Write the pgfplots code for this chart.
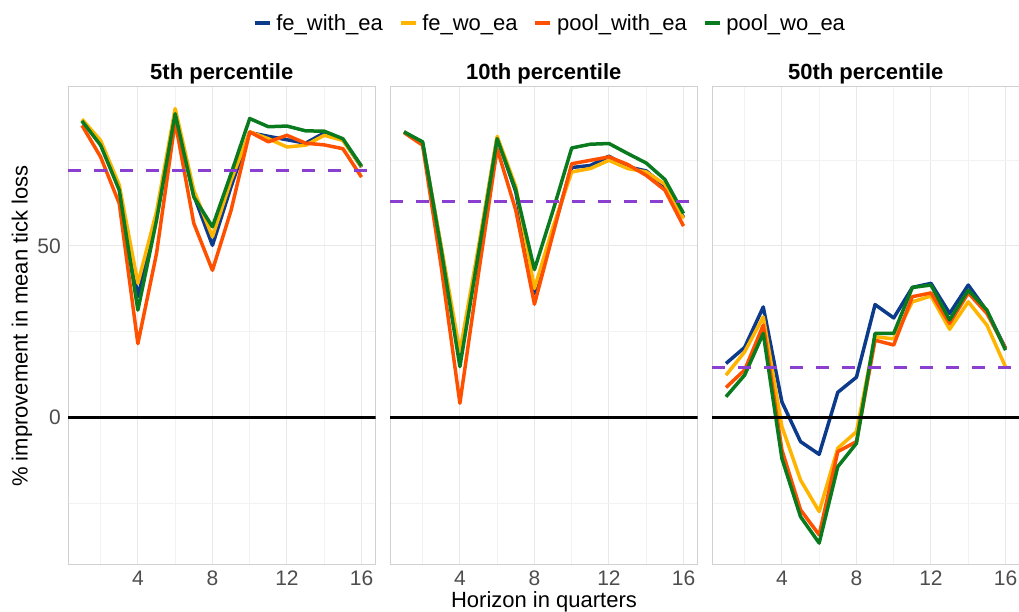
\documentclass[border=0pt]{standalone}
\usepackage{fontspec}
\setmainfont{Liberation Sans}
\usepackage{pgfplots}
\usepackage{pgfplotstable}
\pgfplotsset{compat=1.18}
\definecolor{cblue}{RGB}{13,59,140}
\definecolor{cyellow}{RGB}{255,180,0}
\definecolor{corange}{RGB}{255,80,0}
\definecolor{cgreen}{RGB}{10,122,30}
\definecolor{cpurple}{RGB}{138,63,208}
\definecolor{tickgray}{RGB}{77,77,77}

% 5th percentile
\pgfplotstableread{
x  blue  yellow orange green
1  86.5  87.0   85.2   86.5
2  79.9  80.8   76.0   79.4
3  66.8  67.8   62.4   66.3
4  35.2  39.1   21.5   31.3
5  58.5  60.0   47.8   57.5
6  88.6  90.1   86.3   88.6
7  64.8  66.3   56.6   64.3
8  50.2  52.7   42.9   55.6
9  67.3  69.2   60.4   71.1
10 83.1  83.3   83.3   87.2
11 82.0  81.3   80.4   84.8
12 81.0  78.9   82.3   85.0
13 80.0  79.4   80.0   83.6
14 83.0  82.3   79.5   83.5
15 81.0  80.8   78.4   81.3
16 73.0  73.1   70.1   73.3
}\tabA

% 10th percentile
\pgfplotstableread{
x  blue  yellow orange green
1  83.3  83.3   83.1   83.3
2  80.0  80.0   79.4   80.4
3  49.3  49.8   43.9   48.8
4  16.8  19.1   4.1    14.8
5  48.8  49.8   42.0   48.0
6  81.6  82.0   78.4   81.3
7  65.8  67.3   60.4   66.3
8  36.2  37.6   33.0   43.1
9  54.6  55.6   53.6   60.4
10 72.9  71.6   74.0   78.6
11 73.5  72.6   75.0   79.7
12 76.2  75.0   76.0   79.9
13 73.1  72.6   73.8   77.0
14 71.9  71.6   70.6   74.2
15 67.4  68.0   66.3   69.4
16 58.4  58.0   55.8   59.5
}\tabB

% 50th percentile
\pgfplotstableread{
x  blue  yellow orange green
1  15.7  12.3   8.7    6.0
2  20.4  19.1   13.8   12.3
3  32.2  29.3   26.9   24.5
4  4.5   -2.7   -9.5   -12.0
5  -7.1  -18.3  -27.0  -29.0
6  -10.8 -27.5  -34.3  -36.7
7  7.3   -9.0   -10.0  -14.4
8  11.7  -4.2   -7.1   -7.6
9  32.9  23.5   22.5   24.5
10 29.0  22.9   21.1   24.5
11 37.9  33.7   35.2   37.9
12 39.1  35.4   36.3   38.6
13 30.3  25.7   27.4   28.4
14 38.6  33.7   36.3   37.1
15 31.0  26.9   30.3   31.3
16 20.1  14.7   20.1   19.6
}\tabC

\pgfplotsset{
  panel/.style={
    scale only axis, width=307.5pt, height=478pt,
    anchor=south west,
    xmin=0.25, xmax=16.75, ymin=-43.1, ymax=96.4,
    xtick={4,8,12,16}, minor xtick={2,6,10,14},
    ytick={0,50}, minor ytick={-25,25,75},
    grid=both,
    major grid style={draw=black!9, line width=1pt},
    minor grid style={draw=black!5, line width=0.6pt},
    major tick length=0pt, minor tick length=0pt,
    axis line style={draw=black!18, line width=1pt},
    tick label style={font=\fontsize{21}{24}\selectfont, text=tickgray},
    /pgf/number format/assume math mode=true,
    xticklabel style={anchor=north, inner sep=0pt, yshift=-5.5pt},
    yticklabel style={anchor=east, inner sep=0pt, xshift=-7pt},
    title style={font=\fontsize{22}{26}\selectfont\bfseries, at={(0.5,1)}, anchor=base, yshift=1.5pt},
    every axis plot/.append style={line width=3.5pt, line join=round},
  },
  zeroline/.style={black, line width=3.5pt, forget plot},
  refline/.style={cpurple, line width=3.5pt, dash pattern=on 13pt off 13pt, forget plot},
}

\begin{document}
\begin{tikzpicture}
\useasboundingbox (0pt,0pt) rectangle (1019pt,612pt);

\begin{axis}[panel, at={(68pt,47pt)}, title={5th percentile},
  legend columns=4,
  legend style={at={(1.564,1.134)}, anchor=center, draw=none, fill=none,
    font=\fontsize{22}{26}\selectfont,
    nodes={inner sep=0pt},
    /tikz/every even column/.append style={column sep=16pt},
    /tikz/every odd column/.append style={column sep=5pt}},
  legend image code/.code={\draw[#1, line width=3.5pt] (0pt,0pt) -- (15pt,0pt);},
]
\addplot[cblue] table[x=x,y=blue]{\tabA}; \addlegendentry{fe\_with\_ea}
\addplot[cyellow] table[x=x,y=yellow]{\tabA}; \addlegendentry{fe\_wo\_ea}
\addplot[corange] table[x=x,y=orange]{\tabA}; \addlegendentry{pool\_with\_ea}
\addplot[cgreen] table[x=x,y=green]{\tabA}; \addlegendentry{pool\_wo\_ea}
\addplot[zeroline] coordinates {(0.25,0) (16.75,0)};
\addplot[refline] coordinates {(0.25,72) (16.75,72)};
\end{axis}

\begin{axis}[panel, at={(390pt,47pt)}, title={10th percentile}, yticklabels={}]
\addplot[cblue] table[x=x,y=blue]{\tabB};
\addplot[cyellow] table[x=x,y=yellow]{\tabB};
\addplot[corange] table[x=x,y=orange]{\tabB};
\addplot[cgreen] table[x=x,y=green]{\tabB};
\addplot[zeroline] coordinates {(0.25,0) (16.75,0)};
\addplot[refline] coordinates {(0.25,63) (16.75,63)};
\end{axis}

\begin{axis}[panel, at={(712pt,47pt)}, title={50th percentile}, yticklabels={}]
\addplot[cblue] table[x=x,y=blue]{\tabC};
\addplot[cyellow] table[x=x,y=yellow]{\tabC};
\addplot[corange] table[x=x,y=orange]{\tabC};
\addplot[cgreen] table[x=x,y=green]{\tabC};
\addplot[zeroline] coordinates {(0.25,0) (16.75,0)};
\addplot[refline] coordinates {(0.25,14.6) (16.75,14.6)};
\end{axis}

\node[rotate=90, font=\fontsize{22}{26}\selectfont] at (22pt,286pt) {\% improvement in mean tick loss};
\node[anchor=base, font=\fontsize{22}{26}\selectfont] at (544pt,4.5pt) {Horizon in quarters};
\end{tikzpicture}
\end{document}
